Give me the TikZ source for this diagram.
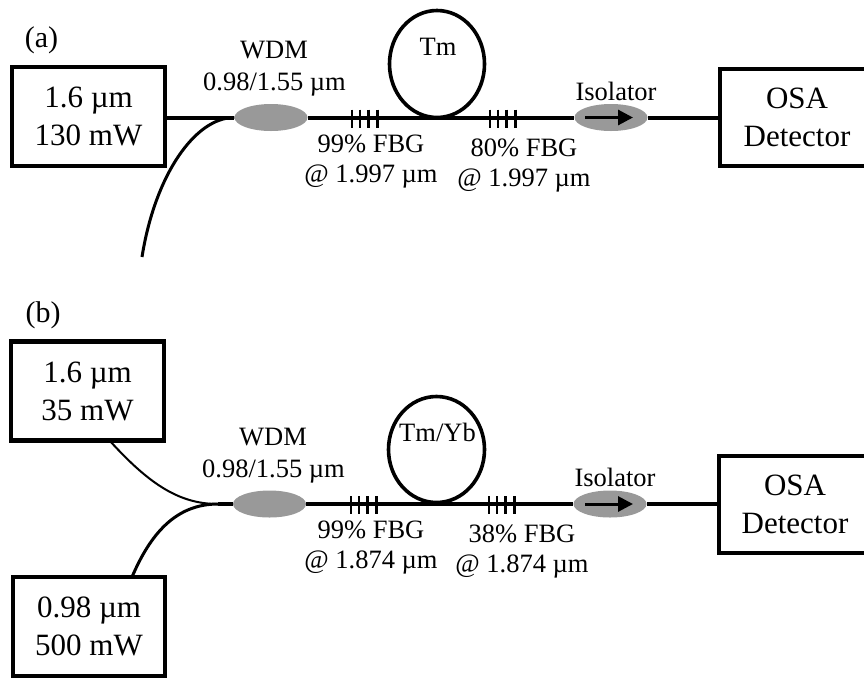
\documentclass[tikz,border=0pt]{standalone}
\usepackage{fontspec}
\setmainfont{Liberation Serif}
\usetikzlibrary{arrows.meta,shapes.geometric}
\tikzset{
  x=1pt,y=-1pt,
  boxnode/.style={draw=black,line width=4.4pt,inner sep=0pt,align=center,font=\fontsize{31}{38}\selectfont,anchor=center},
  coupler/.style={ellipse,fill=black!40,minimum width=73pt,minimum height=27pt,inner sep=0pt},
  fiber/.style={line width=4pt},
  thinfiber/.style={line width=3pt},
  hairfiber/.style={line width=2pt},
  loopfiber/.style={line width=3.6pt},
  tick/.style={line width=2.6pt},
  lbl/.style={inner sep=0pt,anchor=base,font=\fontsize{26.5}{31}\selectfont},
  panellbl/.style={inner sep=0pt,anchor=base,font=\fontsize{30}{36}\selectfont},
  isoarrow/.style={line width=3pt,-{Triangle[length=15pt,width=15pt]}}
}
\newcommand{\fbgmarks}[2]{%
  \foreach \dx in {0,8,16.5,25.5}{\draw[tick] (#1+\dx,#2-9) -- (#1+\dx,#2+9);}%
}
\begin{document}
\begin{tikzpicture}
\useasboundingbox (0,0) rectangle (864,681);
\clip (0,0) rectangle (864,681);
% ---- (a)
\node[panellbl] (la) at (41.5,47) {(a)};
\node[boxnode,minimum width=153pt,minimum height=99pt] (srcA) at (88.5,116.5) {1.6 µm\\130 mW};
\node[boxnode,minimum width=154pt,minimum height=97pt] (osaA) at (797,117.5) {OSA\\Detector};
\node[coupler] (wdmA) at (271,117.5) {};
\node[coupler] (isoA) at (611,117.5) {};
\coordinate (isoAl) at (585,117.5);
\coordinate (isoAr) at (633,117.5);
\coordinate (freeA) at (142,257);
\draw[fiber] (srcA.east |- wdmA.west) -- (wdmA.west);
\draw[fiber] (wdmA.east) -- (isoA.west);
\draw[fiber] (isoA.east) -- (osaA.west |- isoA.east);
\draw[thinfiber] (wdmA.west) .. controls (195,117.5) and (155,175) .. (freeA);
\draw[loopfiber] (437,64) ellipse [x radius=47.5, y radius=53.5];
\draw[isoarrow] (isoAl) -- (isoAr);
\fbgmarks{352}{118.5}
\fbgmarks{490}{118.5}
\node[lbl] (wdmAt) at (274,58) {WDM};
\node[lbl] (wdmAv) at (274.5,90) {0.98/1.55 µm};
\node[lbl] (tmA) at (438,55) {Tm};
\node[lbl] (isoAt) at (616,100) {Isolator};
\node[lbl] (fbgA1) at (371,152) {99\% FBG};
\node[lbl] (fbgA2) at (371,182) {@ 1.997 µm};
\node[lbl] (fbgA3) at (524,156) {80\% FBG};
\node[lbl] (fbgA4) at (524,186) {@ 1.997 µm};
% ---- (b)
\node[panellbl] (lb) at (43,322) {(b)};
\node[boxnode,minimum width=153pt,minimum height=99pt] (srcB) at (87.5,391) {1.6 µm\\35 mW};
\node[boxnode,minimum width=152pt,minimum height=99pt] (pumpB) at (89,626.5) {0.98 µm\\500 mW};
\node[boxnode,minimum width=152pt,minimum height=97pt] (osaB) at (795,504.5) {OSA\\Detector};
\node[coupler] (wdmB) at (269.5,504) {};
\node[coupler] (isoB) at (610,504) {};
\coordinate (isoBl) at (585,504);
\coordinate (isoBr) at (633,504);
\coordinate (join) at (218,504);
\coordinate (srcBout) at (110,441);
\coordinate (pumpBout) at (132,577);
\draw[fiber] (join) -- (wdmB.west);
\draw[fiber] (wdmB.east) -- (isoB.west);
\draw[fiber] (isoB.east) -- (osaB.west |- isoB.east);
\draw[hairfiber] (join) .. controls (180,504) and (150,485) .. (srcBout);
\draw[thinfiber] (join) .. controls (175,504) and (150,535) .. (pumpBout);
\draw[loopfiber] (436.5,449.5) ellipse [x radius=48, y radius=53];
\draw[isoarrow] (isoBl) -- (isoBr);
\fbgmarks{351}{505}
\fbgmarks{489}{505}
\node[lbl] (wdmBt) at (273,445) {WDM};
\node[lbl] (wdmBv) at (273.5,477) {0.98/1.55 µm};
\node[lbl] (tmB) at (437.5,441) {Tm/Yb};
\node[lbl] (isoBt) at (615,486) {Isolator};
\node[lbl] (fbgB1) at (371,538) {99\% FBG};
\node[lbl] (fbgB2) at (371,568) {@ 1.874 µm};
\node[lbl] (fbgB3) at (522,542) {38\% FBG};
\node[lbl] (fbgB4) at (522,572) {@ 1.874 µm};
\end{tikzpicture}
\end{document}
